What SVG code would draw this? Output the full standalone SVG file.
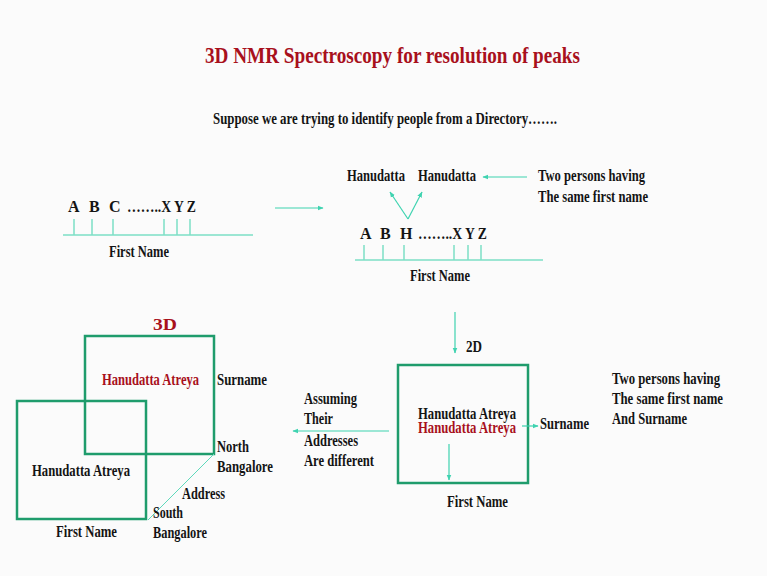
<svg xmlns="http://www.w3.org/2000/svg" width="767" height="576" viewBox="0 0 767 576">
<style>
text{font-family:"Liberation Serif","Times New Roman",serif;font-weight:bold;font-size:16px;fill:#141414}
.red{fill:#a8101c}
.title{font-size:23px}
.axis{stroke:#7ddfc6;stroke-width:1.5;fill:none}
.arr{stroke:#3fd3b0;stroke-width:1.2;fill:none;marker-end:url(#ah)}
.box{stroke:#1f9c6c;stroke-width:2.5;fill:none}
.thin{stroke:#5fd9bb;stroke-width:1;fill:none}
</style>
<defs>
<marker id="ah" viewBox="0 0 10 10" refX="9" refY="5" markerWidth="6" markerHeight="6" orient="auto" markerUnits="userSpaceOnUse">
<path d="M0,1 L10,5 L0,9 z" fill="#3fd3b0"/>
</marker>
</defs>
<rect width="767" height="576" fill="#fbfbfb"/>

<g id="title">
<text class="title red" x="205" y="63" textLength="375" lengthAdjust="spacingAndGlyphs">3D NMR Spectroscopy for resolution of peaks</text>
<text x="213" y="124" font-size="15" textLength="344" lengthAdjust="spacingAndGlyphs">Suppose we are trying to identify people from a Directory…….</text>
</g>

<g id="axis1">
<line class="axis" x1="63" y1="235" x2="253" y2="235"/>
<path class="axis" d="M74,219V235M92,219V235M113,219V235M164,219V235M177,219V235M190,219V235"/>
<text x="68" y="212">A</text>
<text x="89" y="212">B</text>
<text x="109" y="212">C</text>
<text x="127" y="212" textLength="69" lengthAdjust="spacingAndGlyphs">……..X Y Z</text>
<text x="109" y="257" textLength="60" lengthAdjust="spacingAndGlyphs">First Name</text>
</g>

<g id="axis2">
<line class="axis" x1="355" y1="260" x2="543" y2="260"/>
<path class="axis" d="M364,245V260M383,245V260M404,245V260M454,245V260M468,245V260M481,245V260"/>
<text x="360" y="239">A</text>
<text x="380" y="239">B</text>
<text x="400" y="239">H</text>
<text x="418" y="239" textLength="69" lengthAdjust="spacingAndGlyphs">……..X Y Z</text>
<text x="410" y="281" textLength="60" lengthAdjust="spacingAndGlyphs">First Name</text>
<text x="347" y="181" textLength="58" lengthAdjust="spacingAndGlyphs">Hanudatta</text>
<text x="418" y="181" textLength="58" lengthAdjust="spacingAndGlyphs">Hanudatta</text>
<text x="538" y="181" textLength="107" lengthAdjust="spacingAndGlyphs">Two persons having</text>
<text x="538" y="202" textLength="110" lengthAdjust="spacingAndGlyphs">The same first name</text>
</g>

<g id="box2d">
<rect class="box" x="398" y="365" width="130" height="118"/>
<text x="466" y="352" textLength="16" lengthAdjust="spacingAndGlyphs">2D</text>
<text x="418" y="419" font-size="15" textLength="98" lengthAdjust="spacingAndGlyphs">Hanudatta Atreya</text>
<text class="red" x="418" y="433" font-size="15" textLength="98" lengthAdjust="spacingAndGlyphs">Hanudatta Atreya</text>
<text x="540" y="429" textLength="49" lengthAdjust="spacingAndGlyphs">Surname</text>
<text x="447" y="507" textLength="61" lengthAdjust="spacingAndGlyphs">First Name</text>
<text x="304" y="404" textLength="53" lengthAdjust="spacingAndGlyphs">Assuming</text>
<text x="304" y="424" textLength="29" lengthAdjust="spacingAndGlyphs">Their</text>
<text x="304" y="446" textLength="54" lengthAdjust="spacingAndGlyphs">Addresses</text>
<text x="304" y="466" textLength="70" lengthAdjust="spacingAndGlyphs">Are different</text>
<text x="612" y="384" textLength="108" lengthAdjust="spacingAndGlyphs">Two persons having</text>
<text x="612" y="404" textLength="111" lengthAdjust="spacingAndGlyphs">The same first name</text>
<text x="612" y="424" textLength="75" lengthAdjust="spacingAndGlyphs">And Surname</text>
</g>

<g id="box3d">
<text class="red" x="153" y="330" font-size="22" textLength="24" lengthAdjust="spacingAndGlyphs">3D</text>
<rect class="box" x="85" y="336" width="129" height="118"/>
<rect class="box" x="17" y="401" width="129" height="118"/>
<line class="thin" x1="214" y1="454" x2="148" y2="520"/>
<text class="red" x="102" y="385" textLength="97" lengthAdjust="spacingAndGlyphs">Hanudatta Atreya</text>
<text x="217" y="385" textLength="50" lengthAdjust="spacingAndGlyphs">Surname</text>
<text x="217" y="452" textLength="32" lengthAdjust="spacingAndGlyphs">North</text>
<text x="217" y="472" textLength="56" lengthAdjust="spacingAndGlyphs">Bangalore</text>
<text x="32" y="476" textLength="98" lengthAdjust="spacingAndGlyphs">Hanudatta Atreya</text>
<text x="182" y="499" textLength="43" lengthAdjust="spacingAndGlyphs">Address</text>
<text x="153" y="518" textLength="30" lengthAdjust="spacingAndGlyphs">South</text>
<text x="153" y="538" textLength="54" lengthAdjust="spacingAndGlyphs">Bangalore</text>
<text x="56" y="537" textLength="61" lengthAdjust="spacingAndGlyphs">First Name</text>
</g>

<g id="connectors">
<line class="arr" x1="275" y1="208" x2="323" y2="208"/>
<line class="arr" x1="408" y1="219" x2="390" y2="192"/>
<line class="arr" x1="408" y1="219" x2="422" y2="192"/>
<line class="arr" x1="527" y1="177" x2="483" y2="177"/>
<line class="arr" x1="455" y1="312" x2="455" y2="353"/>
<line class="arr" x1="522" y1="426" x2="538" y2="426"/>
<line class="arr" x1="449" y1="444" x2="449" y2="480"/>
<line class="arr" x1="389" y1="431" x2="293" y2="431"/>
</g>
</svg>
